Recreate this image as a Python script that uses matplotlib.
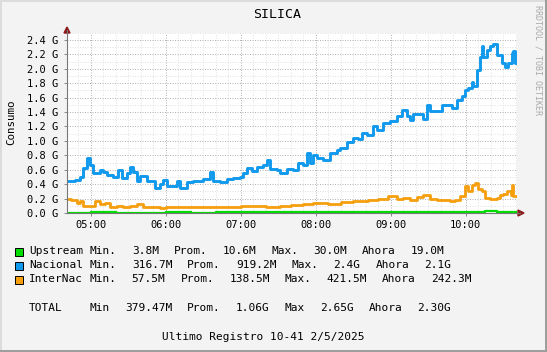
import matplotlib
matplotlib.use("Agg")
import matplotlib.pyplot as plt
from matplotlib.patches import Polygon, Rectangle
from matplotlib.lines import Line2D

W, H = 547, 352

# minutes since midnight, values in G
nac_t = [281, 283, 287, 291, 294, 297, 299, 302, 307, 310, 313, 318, 322, 325,
         329, 331, 334, 337, 339, 345, 350, 351, 355, 358, 361, 366, 369, 371,
         377, 382, 387, 390, 395, 398, 403, 409, 414, 419, 422, 425, 429, 433,
         438, 441, 443, 449, 451, 457, 462, 466, 470, 473, 475, 478, 481, 486,
         491, 497, 499, 505, 510, 514, 517, 521, 526, 529, 534, 539, 545, 549,
         553, 555, 558, 563, 566, 569, 571, 577, 581, 585, 589, 593, 597, 599,
         602, 605, 606, 609, 611, 613, 614, 617, 619, 622, 625, 627, 629, 631,
         634, 637, 638, 639, 641]
nac_v = [0.44, 0.45, 0.46, 0.50, 0.62, 0.76, 0.67, 0.55, 0.60, 0.57, 0.53, 0.50, 0.60, 0.48,
         0.55, 0.64, 0.57, 0.45, 0.52, 0.44, 0.44, 0.35, 0.40, 0.46, 0.37, 0.37, 0.45, 0.34,
         0.43, 0.45, 0.45, 0.47, 0.57, 0.45, 0.43, 0.47, 0.48, 0.50, 0.55, 0.62, 0.58, 0.64,
         0.66, 0.74, 0.61, 0.60, 0.56, 0.61, 0.60, 0.69, 0.67, 0.83, 0.69, 0.81, 0.76, 0.74,
         0.83, 0.87, 0.90, 0.99, 1.04, 1.02, 1.11, 1.08, 1.20, 1.15, 1.25, 1.27, 1.34, 1.43,
         1.34, 1.29, 1.38, 1.38, 1.31, 1.50, 1.41, 1.41, 1.50, 1.50, 1.45, 1.57, 1.62, 1.71,
         1.73, 1.82, 1.76, 1.98, 2.17, 2.31, 2.17, 2.26, 2.31, 2.35, 2.19, 2.19, 2.08, 2.03,
         2.08, 2.22, 2.24, 2.08, 2.08]

int_t = [281, 284, 289, 291, 294, 303, 307, 311, 315, 321, 326, 331, 337, 342,
         355, 360, 380, 400, 420, 440, 451, 460, 470, 478, 490, 500, 510, 522,
         530, 538, 545, 550, 555, 561, 566, 571, 577, 582, 587, 591, 595, 599,
         602, 605, 607, 610, 613, 615, 619, 625, 627, 630, 633, 636, 637, 638, 641]
int_v = [0.19, 0.18, 0.14, 0.16, 0.10, 0.16, 0.12, 0.14, 0.08, 0.10, 0.08, 0.10, 0.13, 0.09,
         0.07, 0.08, 0.09, 0.08, 0.10, 0.09, 0.10, 0.11, 0.12, 0.14, 0.13, 0.15, 0.16, 0.18,
         0.20, 0.23, 0.19, 0.21, 0.18, 0.22, 0.25, 0.19, 0.18, 0.18, 0.17, 0.18, 0.24, 0.37,
         0.30, 0.39, 0.41, 0.33, 0.30, 0.21, 0.20, 0.21, 0.25, 0.27, 0.30, 0.25, 0.39, 0.23, 0.24]

up_t = [281, 300, 320, 340, 360, 380, 400, 420, 440, 460, 480, 500, 520, 540,
        560, 580, 600, 615, 625, 635, 641]
up_v = [0.005, 0.008, 0.004, 0.006, 0.007, 0.005, 0.008, 0.007, 0.009, 0.008, 0.010,
        0.011, 0.010, 0.012, 0.013, 0.015, 0.018, 0.022, 0.020, 0.019, 0.019]

hour_ticks = [300, 360, 420, 480, 540, 600]
y_ticks = [0.0, 0.2, 0.4, 0.6, 0.8, 1.0, 1.2, 1.4, 1.6, 1.8, 2.0, 2.2, 2.4]

names = ["Upstream", "Nacional", "InterNac"]
colors = ["#00DD00", "#1199EE", "#F59F0F"]
mins = ["3.8M", "316.7M", "57.5M"]
avgs = ["10.6M", "919.2M", "138.5M"]
maxs = ["30.0M", "2.4G", "421.5M"]
nows = ["19.0M", "2.1G", "242.3M"]
total = ["379.47M", "1.06G", "2.65G", "2.30G"]

mono = "DejaVu Sans Mono"


def px(x, y):
    return (x / W, 1 - y / H)


fig = plt.figure(figsize=(W / 100, H / 100), dpi=100, facecolor="#F3F3F3")
x0, y0 = px(67, 213)
x1, y1 = px(517, 32.75)
ax = fig.add_axes([x0, y0, x1 - x0, y1 - y0])
ax.set_facecolor("white")
ax.set_xlim(281, 641)
ax.set_ylim(0, 2.5)

# grid
for m in range(290, 641, 10):
    major = m % 60 == 0
    ax.axvline(m, color="#B4B4B4" if major else "#E2E2E2", lw=0.72,
               ls=(0, (1, 1.5)), zorder=1)
for i in range(1, 26):
    v = i * 0.1
    ax.axhline(v, color="#B4B4B4" if i % 2 == 0 else "#E2E2E2", lw=0.72,
               ls=(0, (1, 1.5)), zorder=1)

ax.plot(up_t, up_v, color=colors[0], lw=1.6, drawstyle="steps-post", zorder=3)
ax.plot(nac_t, nac_v, color=colors[1], lw=2.1, drawstyle="steps-post", zorder=3)
ax.plot(int_t, int_v, color=colors[2], lw=2.0, drawstyle="steps-post", zorder=3)

for s in ax.spines.values():
    s.set_visible(False)
ax.set_xticks(hour_ticks)
ax.set_xticklabels(["%02d:%02d" % (m // 60, m % 60) for m in hour_ticks],
                   fontfamily=mono, fontsize=7.5)
ax.set_yticks(y_ticks)
ax.set_yticklabels(["%.1f G" % v for v in y_ticks], fontfamily=mono, fontsize=7.5)
ax.tick_params(axis="both", length=2, width=0.7, color="#888888", pad=4.5)
ax.tick_params(axis="x", pad=3)

# axes and arrows
fig.add_artist(Line2D([px(67, 0)[0]] * 2, [px(0, 213)[1], px(0, 30)[1]],
                      color="#777777", lw=0.8, transform=fig.transFigure))
fig.add_artist(Line2D([px(67, 0)[0], px(520, 0)[0]], [px(0, 213)[1]] * 2,
                      color="#777777", lw=0.8, transform=fig.transFigure))
fig.add_artist(Polygon([px(64, 33), px(70, 33), px(67, 27)], closed=True,
                       color="#8B1A1A", transform=fig.transFigure))
fig.add_artist(Polygon([px(518, 210), px(518, 216), px(524, 213)], closed=True,
                       color="#8B1A1A", transform=fig.transFigure))

fig.text(*px(277, 14), "SILICA", fontfamily=mono, fontsize=9.5,
         ha="center", va="center")
fig.text(*px(11, 122), "Consumo", fontfamily=mono, fontsize=7.8,
         rotation=90, ha="center", va="center")
fig.text(*px(538, 5), "RRDTOOL / TOBI OETIKER", fontfamily=mono, fontsize=6,
         color="#AAAAAA", rotation=270, ha="center", va="top")

# legend
adv, gap = 6.75, 15.0


def row(tokens, y, first_w):
    x = 29
    for k, tok in enumerate(tokens):
        fig.text(*px(x, y), tok, fontfamily=mono, fontsize=8, ha="left", va="center")
        if k == 0:
            x += first_w
        else:
            x += len(tok) * adv + gap


row_y = [251.5, 265.5, 279.5]
for i in range(3):
    fig.add_artist(Rectangle(px(15, row_y[i] + 4), 8 / W, 8 / H, facecolor=colors[i],
                             edgecolor="black", lw=0.7, transform=fig.transFigure))
    row([names[i], "Min.", mins[i], "Prom.", avgs[i], "Max.", maxs[i], "Ahora", nows[i]],
        row_y[i], 9 * adv)
row(["TOTAL", "Min", total[0], "Prom.", total[1], "Max", total[2], "Ahora", total[3]],
    308, 9 * adv)

fig.text(*px(162, 337), "Ultimo Registro 10-41 2/5/2025", fontfamily=mono,
         fontsize=8, ha="left", va="center")

# 3d frame
fig.add_artist(Line2D([0, 1], [1 - 1 / H] * 2, color="#DCDCDC", lw=1.4, transform=fig.transFigure))
fig.add_artist(Line2D([1 / W] * 2, [0, 1], color="#DCDCDC", lw=1.4, transform=fig.transFigure))
fig.add_artist(Line2D([0, 1], [1 / H] * 2, color="#9C9C9C", lw=1.4, transform=fig.transFigure))
fig.add_artist(Line2D([1 - 1 / W] * 2, [0, 1], color="#9C9C9C", lw=1.4, transform=fig.transFigure))

fig.savefig("out.png", dpi=100, facecolor=fig.get_facecolor())
